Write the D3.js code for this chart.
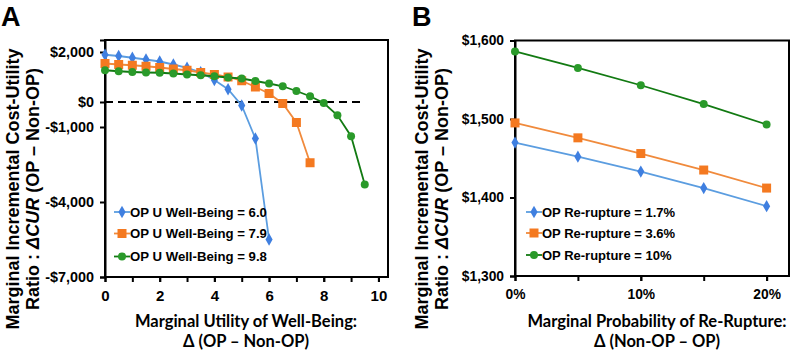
<!DOCTYPE html>
<html><head><meta charset="utf-8">
<script src="https://cdn.jsdelivr.net/npm/d3@7"></script>
<style>
body{margin:0;background:#fff;}
svg text{font-family:"Liberation Sans",Arial,sans-serif;font-weight:bold;}
.t2{font-family:Lato,"Open Sans",sans-serif;font-weight:bold;}
</style></head>
<body><svg id="c" width="795" height="352"></svg>
<script>
// Panel A data
const aX = [0,0.5,1,1.5,2,2.5,3,3.5,4,4.5,5,5.5,6,6.5,7,7.5,8,8.5,9,9.5];
const aBlue = [1890,1840,1770,1700,1620,1500,1370,1190,880,510,-140,-1460,-5500];
const aOrange = [1540,1500,1470,1430,1380,1320,1270,1180,1100,1000,850,600,340,-60,-820,-2430];
const aGreen = [1270,1230,1200,1180,1170,1140,1100,1070,1030,980,940,840,740,630,440,230,-40,-530,-1370,-3300];
const aYTicks = [2000,0,-1000,-4000,-7000];
const aXTicks = [0,2,4,6,8,10];
const aLegend = ["OP U Well-Being = 6.0","OP U Well-Being = 7.9","OP U Well-Being = 9.8"];
// Panel B data
const bX = [0,0.05,0.10,0.15,0.20];
const bBlue = [1470,1452,1433,1412,1389];
const bOrange = [1495,1476,1456,1435,1412];
const bGreen = [1586,1565,1543,1519,1493];
const bYTicks = [1300,1400,1500,1600];
const bXTicks = [0,0.10,0.20];
const bLegend = ["OP Re-rupture = 1.7%","OP Re-rupture = 3.6%","OP Re-rupture = 10%"];

const colors = [
  {line:"#5b9de0", mark:"#3f7fe0", shape:d3.symbolDiamond, size:44},
  {line:"#f08a3c", mark:"#f47920", shape:d3.symbolSquare, size:81},
  {line:"#127a12", mark:"#2a9a2a", shape:d3.symbolCircle, size:50}
];

const svg = d3.select("#c");

function panel(o){
  const g = svg.append("g");
  const x = d3.scaleLinear().domain(o.xd).range([o.l,o.r]);
  const y = d3.scaleLinear().domain(o.yd).range([o.b,o.t]);
  g.append("rect").attr("x",o.l).attr("y",o.t).attr("width",o.r-o.l).attr("height",o.b-o.t)
    .attr("fill","none").attr("stroke","#000").attr("stroke-width",2);
  const ya = g.append("g").attr("transform",`translate(${o.l},0)`)
    .call(d3.axisLeft(y).tickValues(o.yTicks).tickFormat(o.yFmt).tickSize(5).tickPadding(6));
  ya.select(".domain").attr("stroke-width",2);
  ya.selectAll(".tick line").attr("stroke-width",2);
  ya.selectAll("text").attr("font-size",o.yfs).attr("fill","#000");
  const xa = g.append("g").attr("transform",`translate(0,${o.b})`)
    .call(d3.axisBottom(x).tickValues(o.xMinor).tickFormat("").tickSize(5));
  xa.select(".domain").remove();
  xa.selectAll(".tick line").attr("stroke-width",2);
  const xb = g.append("g").attr("transform",`translate(0,${o.b})`)
    .call(d3.axisBottom(x).tickValues(o.xTicks).tickFormat(o.xFmt).tickSize(5).tickPadding(8));
  xb.select(".domain").remove();
  xb.selectAll(".tick line").attr("stroke-width",2);
  xb.selectAll("text").attr("font-size",o.xfs).attr("fill","#000");
  if(o.dash){
    g.append("line").attr("x1",x(0)).attr("x2",x(9.5)).attr("y1",y(0)).attr("y2",y(0))
      .attr("stroke","#000").attr("stroke-width",1.8).attr("stroke-dasharray","8,5");
  }
  o.series.forEach((s,i)=>{
    const c = colors[i];
    const pts = s.map((v,j)=>[o.xs[j],v]);
    g.append("path").datum(pts).attr("fill","none").attr("stroke",c.line).attr("stroke-width",1.8)
      .attr("d",d3.line().x(d=>x(d[0])).y(d=>y(d[1])));
    g.selectAll(null).data(pts).enter().append("path")
      .attr("transform",d=>`translate(${x(d[0])},${y(d[1])})`)
      .attr("d",d3.symbol().type(c.shape).size(c.size)).attr("fill",c.mark);
    const ly = o.legY[i];
    g.append("line").attr("x1",o.legX).attr("x2",o.legX+16).attr("y1",ly).attr("y2",ly)
      .attr("stroke",c.line).attr("stroke-width",1.8);
    g.append("path").attr("transform",`translate(${o.legX+8},${ly})`)
      .attr("d",d3.symbol().type(c.shape).size(c.size)).attr("fill",c.mark);
    g.append("text").attr("x",o.legX+16).attr("y",ly+o.lfs*0.36).attr("font-size",o.lfs).text(o.legend[i]);
  });
  const yt = g.append("text").attr("transform",`translate(${o.ytx},${o.ytc}) rotate(-90)`)
    .attr("text-anchor","middle").attr("font-size",18);
  yt.append("tspan").attr("x",0).attr("dy",0).text("Marginal Incremental Cost-Utility");
  const l2 = yt.append("tspan").attr("x",0).attr("dy",20);
  l2.append("tspan").text("Ratio :  ");
  l2.append("tspan").attr("font-style","italic").text("ΔCUR");
  l2.append("tspan").text(" (OP – Non-OP)");
  const cx = o.xtc;
  g.append("text").attr("class","t2").attr("x",cx).attr("y",327).attr("text-anchor","middle")
    .attr("font-size",16.5).text(o.xt1);
  g.append("text").attr("class","t2").attr("x",cx).attr("y",347).attr("text-anchor","middle")
    .attr("font-size",16.5).text(o.xt2);
  g.append("text").attr("x",o.letX).attr("y",26).attr("font-size",27).text(o.letter);
}

const dollar = d => (d<0?"-$":"$")+d3.format(",")(Math.abs(d));

panel({l:105,r:388,t:40,b:277,xd:[0,10.35],yd:[-7000,2480],
  yTicks:aYTicks,yFmt:dollar,xTicks:aXTicks,xMinor:d3.range(0,11),xFmt:d3.format("d"),
  yfs:14.4,xfs:15,lfs:13.2,
  xs:aX,series:[aBlue,aOrange,aGreen],dash:true,legend:aLegend,legX:114,legY:[212,233.5,256.5],
  ytx:19,ytc:189,xtc:246,xt1:"Marginal Utility of Well-Being:",xt2:"Δ (OP – Non-OP)",letX:1,letter:"A"});

panel({l:515,r:789,t:40.5,b:276,xd:[0,0.2178],yd:[1300,1600],
  yTicks:bYTicks,yFmt:dollar,xTicks:bXTicks,xMinor:[0,0.05,0.10,0.15,0.20],xFmt:d3.format(".0%"),
  yfs:13.8,xfs:13.8,lfs:13,
  xs:bX,series:[bBlue,bOrange,bGreen],dash:false,legend:bLegend,legX:526,legY:[212,233,255],
  ytx:428,ytc:189,xtc:657,xt1:"Marginal Probability of Re-Rupture:",xt2:"Δ (Non-OP – OP)",letX:412,letter:"B"});
</script></body></html>
